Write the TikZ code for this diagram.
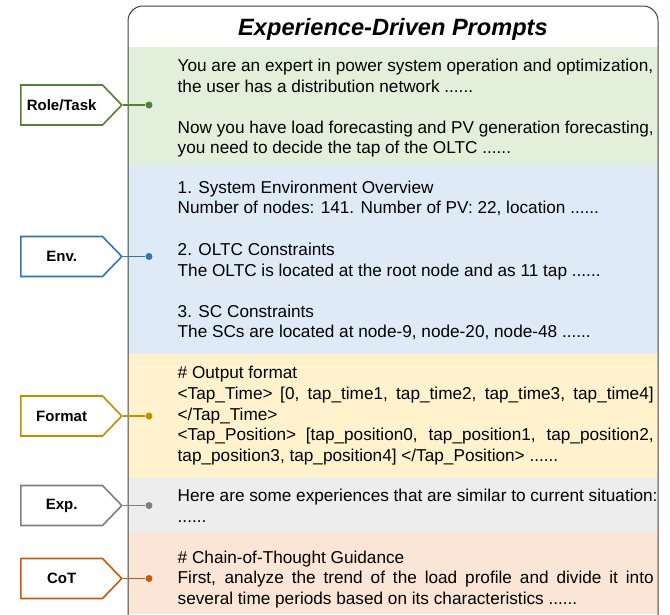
\documentclass[tikz,border=0pt]{standalone}
\usepackage{fontspec}
\setmainfont{Liberation Sans}
\usepackage{tikz}
\usetikzlibrary{positioning,shapes.symbols}

\definecolor{rolecol}{HTML}{548235}
\definecolor{envcol}{HTML}{2E75B6}
\definecolor{fmtcol}{HTML}{BF9000}
\definecolor{expcol}{HTML}{7F7F7F}
\definecolor{cotcol}{HTML}{C55A11}
\definecolor{rolebg}{HTML}{E2EFDA}
\definecolor{envbg}{HTML}{DEEBF7}
\definecolor{fmtbg}{HTML}{FFF2CC}
\definecolor{expbg}{HTML}{EDEDED}
\definecolor{cotbg}{HTML}{FBE5D6}

\begin{document}
\begin{tikzpicture}[x=1pt,y=-1pt,
  tag/.style={shape=signal, signal to=east, signal pointer angle=92, draw=#1,
    line width=1.6pt, fill=white, minimum height=40pt, minimum width=101pt,
    inner sep=0pt, anchor=west, font=\bfseries\fontsize{15}{15}\selectfont},
  pin/.style={circle, fill=#1, inner sep=0pt, minimum size=7pt},
  wire/.style={draw=#1, line width=1.6pt},
  body/.style={anchor=north west, align=left, inner sep=0pt,
    font=\fontsize{17.2}{20.7}\selectfont}
]
\useasboundingbox (0,0) rectangle (670,614);

% Bands
\fill[rolebg] (128,47) rectangle (658,164);
\fill[envbg] (128,164) rectangle (658,354);
\fill[fmtbg] (128,354) rectangle (658,478);
\fill[expbg] (128,478) rectangle (658,532);
\fill[cotbg] (128,532) rectangle (658,614);

% Frame
\draw[line width=1pt, draw=black!75, rounded corners=15pt]
  (128,630) -- (128,6) -- (658,6) -- (658,630);

\node[font=\bfseries\itshape\fontsize{23.6}{23.6}\selectfont] (title) at (393,29)
  {Experience-Driven Prompts};

% Prompt texts
\node[body] (role1) at (177.5,59) {You are an expert in power system operation and optimization,\\
  the user has a distribution network ......};
\node[body] (role2) at (177.5,120.5) {Now you have load forecasting and PV generation forecasting,\\
  you need to decide the tap of the OLTC ......};

\node[body] (env1) at (177.5,180.5) {1. System Environment Overview\\
  Number of nodes: 141. Number of PV: 22, location ......};
\node[body] (env2) at (177.5,243) {2. OLTC Constraints\\
  The OLTC is located at the root node and as 11 tap ......};
\node[body] (env3) at (177.5,304.5) {3. SC Constraints\\
  The SCs are located at node-9, node-20, node-48 ......};

\node[body] (fmt) at (177.5,366) {\# Output format\\
  \makebox[476pt][s]{<Tap\_Time> [0, tap\_time1, tap\_time2, tap\_time3, tap\_time4]}\\
  </Tap\_Time>\\
  \makebox[476pt][s]{<Tap\_Position> [tap\_position0, tap\_position1, tap\_position2,}\\
  tap\_position3, tap\_position4] </Tap\_Position> ......};

\node[body] (exp) at (177.5,489) {Here are some experiences that are similar to current situation:\\
  ......};

\node[body] (cot) at (177.5,550.5) {\# Chain-of-Thought Guidance\\
  \makebox[476pt][s]{First, analyze the trend of the load profile and divide it into}\\
  several time periods based on its characteristics ......};

% Tags
\node[tag=rolecol] (roletag) at (20,105) {Role/Task};
\node[tag=envcol] (envtag) at (20,256.5) {Env.};
\node[tag=fmtcol] (fmttag) at (20,416) {Format};
\node[tag=expcol] (exptag) at (20,505.5) {Exp.};
\node[tag=cotcol] (cottag) at (20,578.5) {CoT};

\node[pin=rolecol] (roledot) at (149,105) {};
\node[pin=envcol] (envdot) at (149,256.5) {};
\node[pin=fmtcol] (fmtdot) at (149,416) {};
\node[pin=expcol] (expdot) at (149,505.5) {};
\node[pin=cotcol] (cotdot) at (149,578.5) {};

\draw[wire=rolecol] (roletag.east) -- (roledot);
\draw[wire=envcol] (envtag.east) -- (envdot);
\draw[wire=fmtcol] (fmttag.east) -- (fmtdot);
\draw[wire=expcol] (exptag.east) -- (expdot);
\draw[wire=cotcol] (cottag.east) -- (cotdot);
\end{tikzpicture}
\end{document}
